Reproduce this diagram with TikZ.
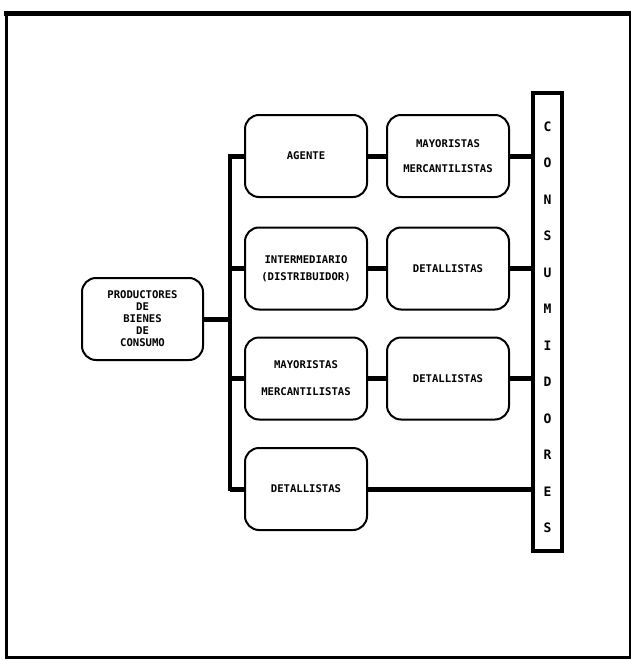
\documentclass[tikz,border=0pt]{standalone}
\usepackage{fontspec}
\usetikzlibrary{calc}
\setmonofont{DejaVu Sans Mono}
\begin{document}
\begin{tikzpicture}[x=1pt,y=-1pt,
  lbl/.style={font=\ttfamily\bfseries\fontsize{10.6}{13}\selectfont},
  box/.style={lbl, draw, line width=2pt, rounded corners=14pt,
    minimum width=122pt, minimum height=82pt, inner sep=0pt, align=center},
  link/.style={line width=5pt},
  busline/.style={line width=3.5pt}]
\useasboundingbox (0,0) rectangle (631,661);
\fill[white] (0,0) rectangle (631,661);

% outer frame
\draw[line width=3pt] (6,14) -- (6,657) -- (630,657) -- (630,14);
\draw[line width=5pt] (4,14) -- (632,14);

% producer
\node[box, minimum width=121pt, font=\ttfamily\bfseries\fontsize{10.6}{12}\selectfont]
  (prod) at (142.5,319) {PRODUCTORES\\DE\\BIENES\\DE\\CONSUMO};

% first column
\node[box] (a1) at (306,156) {AGENTE};
\node[box] (a2) at (306,268.5) {INTERMEDIARIO\\[4pt](DISTRIBUIDOR)};
\node[box] (a3) at (306,378.5) {MAYORISTAS\\[14pt]MERCANTILISTAS};
\node[box] (a4) at (306,489) {DETALLISTAS};

% second column
\node[box] (b1) at (448,156) {MAYORISTAS\\[12pt]MERCANTILISTAS};
\node[box] (b2) at (448,268.5) {DETALLISTAS};
\node[box] (b3) at (448,378.5) {DETALLISTAS};

% consumers column
\node[draw, line width=3.5pt, minimum width=29pt, minimum height=458pt, inner sep=0pt]
  (cons) at (547.5,322) {};
\node[font=\ttfamily\bfseries\fontsize{13}{36.5}\selectfont, align=center, inner sep=0pt]
  (consl) at (547.5,327.5) {C\\O\\N\\S\\U\\M\\I\\D\\O\\R\\E\\S};

% bus
\coordinate (bustop) at (230,156);
\coordinate (busbot) at (230,489);
\draw[busline] ($(bustop)+(0,-2)$) -- ($(busbot)+(0,2)$);

% connectors
\draw[link] (prod.east) -- (prod.east -| bustop);
\foreach \n in {a1,a2,a3,a4}
  \draw[link] (\n.west -| bustop) -- (\n.west);
\foreach \n/\m in {a1/b1,a2/b2,a3/b3}
  \draw[link] (\n.east) -- (\m.west);
\foreach \n in {b1,b2,b3,a4}
  \draw[link] (\n.east) -- (\n.east -| cons.west);
\end{tikzpicture}
\end{document}
